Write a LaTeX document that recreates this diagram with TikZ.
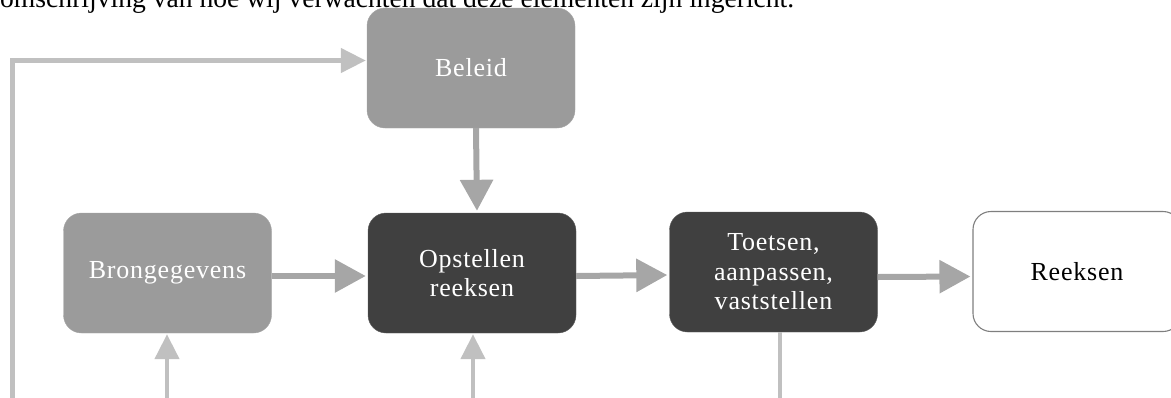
\documentclass[tikz,border=0pt]{standalone}
\usepackage{fontspec}
\setmainfont{Liberation Serif}
\newfontfamily\boxfont[LetterSpace=3]{Liberation Serif}
\usetikzlibrary{arrows.meta}

\definecolor{boxgray}{HTML}{9B9B9B}
\definecolor{boxdark}{HTML}{404040}
\definecolor{flowgray}{HTML}{A6A6A6}
\definecolor{feedgray}{HTML}{C0C0C0}
\definecolor{edgegray}{HTML}{7F7F7F}

\tikzset{
  stepbox/.style={rectangle, rounded corners=18pt, minimum width=208pt,
    minimum height=120pt, inner sep=0pt, align=center,
    font=\boxfont\fontsize{26}{29.5}\selectfont},
  inputbox/.style={stepbox, fill=boxgray, draw=boxgray!90!white, text=white},
  procbox/.style={stepbox, fill=boxdark, draw=boxdark!85!white, text=white},
  outbox/.style={stepbox, fill=white, draw=edgegray, line width=1.1pt, text=black},
  flow/.style={draw=flowgray, line width=6pt,
    -{Triangle[width=32pt,length=31pt]}, shorten >=2pt},
  feed/.style={draw=feedgray, line width=4.5pt,
    -{Triangle[width=24pt,length=25pt]}, shorten >=1pt},
  feedline/.style={draw=feedgray, line width=4.5pt},
}

\begin{document}
\begin{tikzpicture}[x=1pt, y=-1pt]
  \useasboundingbox (0,0) rectangle (1171,397);
  \clip (0,0) rectangle (1171,397);

  % introductory sentence above the scheme
  \node[anchor=base west, inner sep=0pt, font=\fontsize{27.6}{30}\selectfont]
    (intro) at (0,7) {omschrijving van hoe wij verwachten dat deze elementen zijn ingericht.};

  % process steps
  \node[inputbox] (beleid) at (471,68)    {Beleid};
  \node[inputbox] (bron)   at (167.5,273) {Brongegevens};
  \node[procbox]  (opst)   at (472,273)   {Opstellen\\reeksen};
  \node[procbox]  (toets)  at (773.5,272) {Toetsen,\\aanpassen,\\vaststellen};
  \node[outbox]   (reeks)  at (1077,271.5) {Reeksen};

  % main flow
  \draw[flow] ([xshift=5pt]beleid.south) -- ([xshift=5pt]opst.north);
  \draw[flow] ([yshift=-3pt]bron.east) -- ([yshift=-3pt]opst.west);
  \draw[flow] ([yshift=-3pt]opst.east) -- ([yshift=-3pt]toets.west);
  \draw[flow] ([yshift=-5pt]toets.east) -- ([yshift=-5pt]reeks.west);

  % feedback lines entering from below
  \coordinate (loopin)  at (12.5,405);
  \coordinate (bronin)  at (167,405);
  \coordinate (opstin)  at (473,405);
  \coordinate (toetsout) at (780,405);

  \draw[feed] (loopin) |- ([yshift=7.5pt]beleid.west);
  \draw[feed] (bronin) -- (bronin |- bron.south);
  \draw[feed] (opstin) -- (opstin |- opst.south);
  \draw[feedline] (toetsout |- toets.south) -- (toetsout);
\end{tikzpicture}
\end{document}
